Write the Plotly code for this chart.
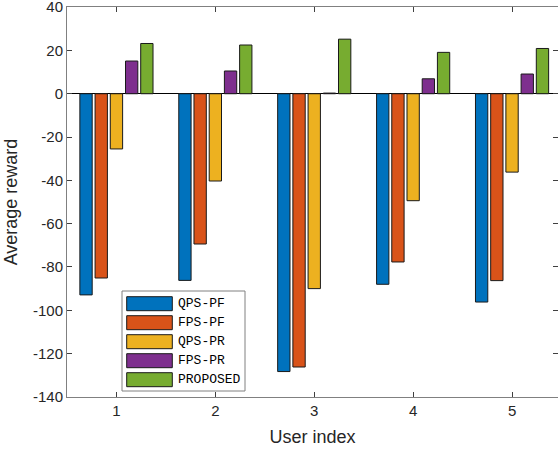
import plotly.graph_objects as go

# ---- data ----
users = [1, 2, 3, 4, 5]
series_names = ["QPS-PF", "FPS-PF", "QPS-PR", "FPS-PR", "PROPOSED"]
qps_pf = [-92.9, -86.2, -128.3, -88.0, -96.2]
fps_pf = [-85.1, -69.4, -126.2, -77.7, -86.3]
qps_pr = [-25.5, -40.3, -90.0, -49.4, -36.2]
fps_pr = [15.1, 10.5, 0.3, 6.9, 9.1]
proposed = [23.2, 22.5, 25.2, 19.1, 20.9]
y_ticks = [40, 20, 0, -20, -40, -60, -80, -100, -120, -140]

series_values = [qps_pf, fps_pf, qps_pr, fps_pr, proposed]
colors = ["#0072BD", "#D95319", "#EDB120", "#7E2F8E", "#77AC30"]

W, H = 558, 450
L, R, T, B = 67, 558, 7, 397  # plot area in pixels

fig = go.Figure()
for name, vals, c in zip(series_names, series_values, colors):
    fig.add_trace(go.Bar(
        x=users, y=vals, name=name, marker_color=c,
        marker_line=dict(color="#1a1a1a", width=1),
        showlegend=False,
    ))

axis_common = dict(
    showline=True, linecolor="#808080", linewidth=1, mirror="ticks",
    ticks="inside", ticklen=5, tickcolor="#404040",
    showgrid=False, automargin=False, ticklabeloverflow="allow",
    tickfont=dict(family="Liberation Sans, Arial, sans-serif", size=15, color="#262626"),
)

fig.update_layout(
    width=W, height=H,
    margin=dict(l=L, r=W - R, t=T, b=H - B, pad=0),
    paper_bgcolor="white", plot_bgcolor="white",
    barmode="group", bargap=0.231, bargroupgap=0.19,
    font=dict(family="Liberation Sans, Arial, sans-serif", color="#262626"),
    xaxis=dict(
        range=[0.5, 0.5 + (R - L) / 98.9],
        tickmode="array", tickvals=users, ticktext=[str(u) for u in users],
        title=dict(text="User index", font=dict(size=18, color="#262626"), standoff=12),
        zeroline=False,
        **axis_common,
    ),
    yaxis=dict(
        range=[-140.05, 40.05],
        tickmode="array", tickvals=y_ticks, ticktext=[str(v) for v in y_ticks],
        title=dict(text="Average reward", font=dict(size=18, color="#262626"), standoff=10),
        zeroline=True, zerolinecolor="#000000", zerolinewidth=1,
        **axis_common,
    ),
)

# ---- manual legend (wide swatches, as in the reference) ----
def px(xp):
    return (xp - L) / (R - L)

def py(yp):
    return (B - yp) / (B - T)

shapes = [dict(type="rect", xref="paper", yref="paper",
               x0=px(122), x1=px(245), y0=py(391), y1=py(291),
               line=dict(color="#808080", width=1), fillcolor="white", layer="above")]
annotations = []
for i, (name, c) in enumerate(zip(series_names, colors)):
    cy = 303.7 + 19 * i
    shapes.append(dict(type="rect", xref="paper", yref="paper",
                       x0=px(126.7), x1=px(172.3), y0=py(cy + 7), y1=py(cy - 7),
                       line=dict(color="#1a1a1a", width=1), fillcolor=c, layer="above"))
    annotations.append(dict(xref="paper", yref="paper", x=px(176), y=py(cy),
                            xanchor="left", yanchor="middle", showarrow=False,
                            text=name,
                            font=dict(family="Courier New, Liberation Mono, monospace",
                                      size=13, color="#000000")))

fig.update_layout(shapes=shapes, annotations=annotations)

fig.write_html("out.html",
               config={"displayModeBar": False},
               post_script="document.body.style.margin='0';document.body.style.overflow='hidden';")
